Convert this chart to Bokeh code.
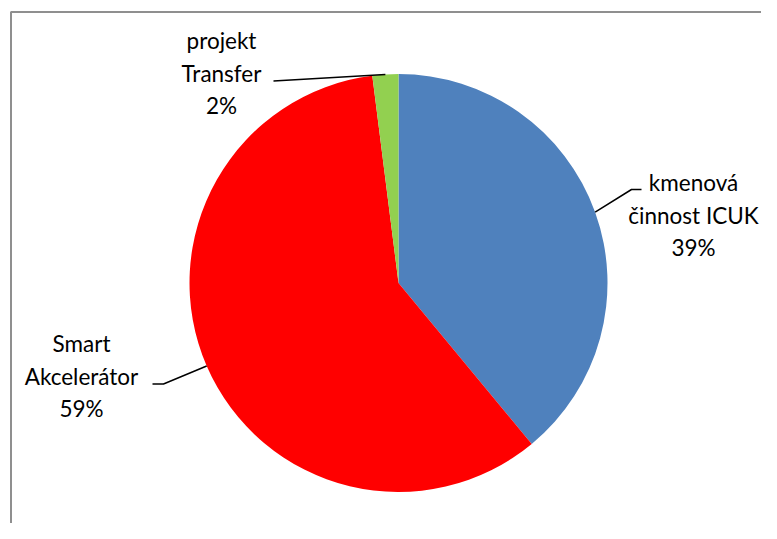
import math
from bokeh.plotting import figure
from bokeh.models import Range1d
from bokeh.core.properties import value
from bokeh.embed import file_html
from bokeh.resources import INLINE

# ---- data ----
categories = ["kmenová činnost ICUK", "Smart Akcelerátor", "projekt Transfer"]
shares = [39, 59, 2]
colors = ["#4F81BD", "#FF0000", "#92D050"]
label_lines = [["kmenová", "činnost ICUK"], ["Smart", "Akcelerátor"], ["projekt", "Transfer"]]

# ---- layout (image pixel coords; data y = -image y) ----
W, H = 761, 523
CX, CY, R = 398, 282.5, 209
FONT = "Lato"
FS = "22.5px"

p = figure(width=W, height=H, output_backend="svg", toolbar_location=None,
           x_range=Range1d(0, W), y_range=Range1d(-H, 0),
           min_border=0, border_fill_color="white", outline_line_color=None)
p.axis.visible = False
p.grid.visible = False

total = float(sum(shares))
starts, ends, mids = [], [], []
cum = 0.0
for s in shares:
    a0 = math.pi / 2 - 2 * math.pi * cum / total
    cum += s
    a1 = math.pi / 2 - 2 * math.pi * cum / total
    starts.append(a0)
    ends.append(a1)
    mids.append((a0 + a1) / 2)

p.wedge(x=[CX] * 3, y=[-CY] * 3, radius=R, radius_units="screen",
        start_angle=starts, end_angle=ends, direction="clock",
        fill_color=colors, line_color=None)

# frame border (chart area edge)
p.line(x=[10.5, 10.5, W], y=[-H, -11.5, -11.5], line_color="#8f8f8f", line_width=2)

# labels: (center x, first line y) and leader elbows
label_pos = [(693, 182), (81, 343), (221, 40)]
elbows = [[(641, 189), (631, 189)], [(152, 383.5), (163, 383.5)], [(273, 80.5)]]
LS = 32.5

for i, (lines, (lx, ly)) in enumerate(zip(label_lines, label_pos)):
    pct = f"{round(shares[i] / total * 100)}%"
    texts = lines + [pct]
    p.text(x=[lx] * len(texts), y=[-(ly + k * LS) for k in range(len(texts))], text=texts,
           text_font=value(FONT), text_font_size=FS, text_align="center",
           text_baseline="middle", text_color="black")
    ex = CX + R * math.cos(mids[i])
    ey = CY - R * math.sin(mids[i])
    pts = elbows[i] + [(ex, ey)]
    p.line(x=[q[0] for q in pts], y=[-q[1] for q in pts], line_color="black", line_width=1.5)

open("out.html", "w").write(file_html(p, INLINE))
